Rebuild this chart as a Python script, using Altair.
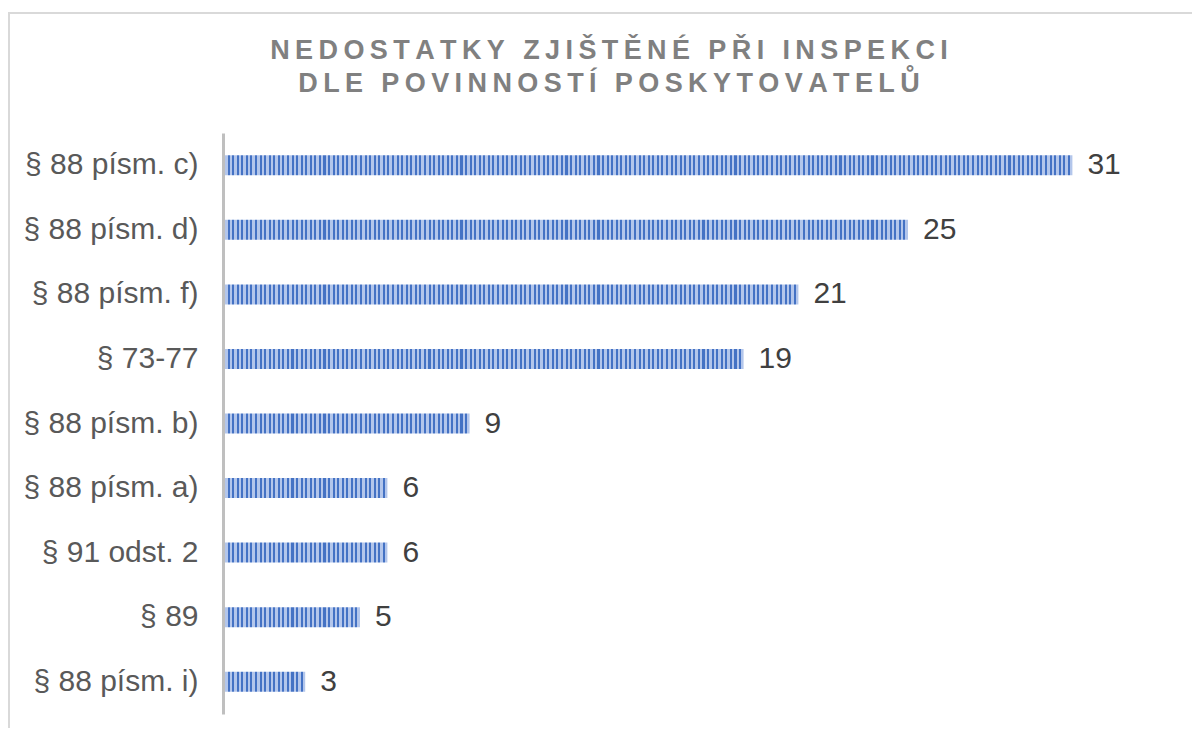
import altair as alt
import pandas as pd

categories = ["§ 88 písm. c)", "§ 88 písm. d)", "§ 88 písm. f)", "§ 73-77",
              "§ 88 písm. b)", "§ 88 písm. a)", "§ 91 odst. 2", "§ 89", "§ 88 písm. i)"]
values = [31, 25, 21, 19, 9, 6, 6, 5, 3]
title_lines = ["NEDOSTATKY ZJIŠTĚNÉ PŘI INSPEKCI", "DLE POVINNOSTÍ POSKYTOVATELŮ"]

df = pd.DataFrame({"cat": categories, "val": values})

X_MAX = 35
W, H = 959, 581
FONT = "Liberation Sans"
DARK, LIGHT = "#4472c4", "#b3c6eb"
STRIPES_PER_UNIT = 6
DARK_SHARE = 0.45


def spaced(s):
    return "\u2009".join(s)


def stripe_gradient(v):
    n = max(1, int(round(v * STRIPES_PER_UNIT)))
    stops = []
    for i in range(n):
        a, b, c = i / n, (i + DARK_SHARE) / n, (i + 1) / n
        stops += [alt.GradientStop(offset=a, color=DARK),
                  alt.GradientStop(offset=b, color=DARK),
                  alt.GradientStop(offset=b, color=LIGHT),
                  alt.GradientStop(offset=c, color=LIGHT)]
    return alt.LinearGradient(gradient="linear", stops=stops, x1=0, x2=1, y1=0, y2=0)


x_enc = alt.X("val:Q", scale=alt.Scale(domain=[0, X_MAX], nice=False, zero=True), axis=None)
y_enc = alt.Y("cat:N", sort=categories,
              scale=alt.Scale(domain=categories, paddingInner=0.69, paddingOuter=0.345),
              axis=alt.Axis(title=None, domainColor="#bfbfbf", domainWidth=3, ticks=False,
                            labelFont=FONT, labelFontSize=30, labelColor="#595959",
                            labelPadding=25, zindex=1))

base = alt.Chart(df)

bar_layers = []
for c, v in zip(categories, values):
    bar_layers.append(
        base.transform_filter(alt.datum.cat == c)
        .mark_bar(color=stripe_gradient(v))
        .encode(x=x_enc, y=y_enc)
    )

labels = base.mark_text(align="left", baseline="middle", dx=15, font=FONT,
                        fontSize=30, color="#404040").encode(x=x_enc, y=y_enc, text="val:Q")

frame_df = pd.DataFrame({"a": [0]})
frame_left = alt.Chart(frame_df).mark_rule(color="#d9d9d9", strokeWidth=2).encode(
    x=alt.value(-214), y=alt.value(-121), y2=alt.value(600))
frame_top = alt.Chart(frame_df).mark_rule(color="#d9d9d9", strokeWidth=2).encode(
    x=alt.value(-215), x2=alt.value(975), y=alt.value(-120))

title_style = dict(align="center", baseline="alphabetic", font=FONT, fontSize=27,
                   fontWeight="bold", color="#808080")
title1 = alt.Chart(frame_df).mark_text(**title_style).encode(
    x=alt.value(386), y=alt.value(-74), text=alt.value(spaced(title_lines[0])))
title2 = alt.Chart(frame_df).mark_text(**title_style).encode(
    x=alt.value(386), y=alt.value(-41), text=alt.value(spaced(title_lines[1])))

chart = alt.layer(frame_left, frame_top, title1, title2, *bar_layers, labels).properties(
    width=W, height=H,
    padding={"left": 215, "top": 125, "right": 10, "bottom": 14},
    autosize=alt.AutoSizeParams(type="none"),
    background="white",
).configure_view(stroke=None, strokeWidth=0)

chart.save("out.html", embed_options={"renderer": "svg", "actions": False})
